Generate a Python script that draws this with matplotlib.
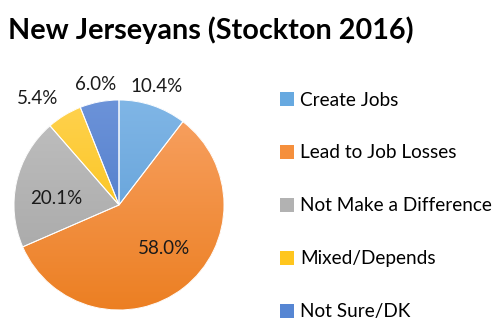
import matplotlib.pyplot as plt
import numpy as np
from matplotlib.colors import to_rgb
from matplotlib.patches import Patch

categories = ['Create Jobs', 'Lead to Job Losses', 'Not Make a Difference',
              'Mixed/Depends', 'Not Sure/DK']
shares = [10.4, 58.0, 20.1, 5.4, 6.0]
colors = ['#67A9E0', '#F58F3C', '#B2B2B2', '#FFC61E', '#5686D3']
top_colors = ['#80B6E6', '#F8A264', '#C0C0C0', '#FFD24F', '#6C93D9']
bottom_colors = ['#5597D2', '#EC7F22', '#A3A3A3', '#F8BC00', '#4170C2']

plt.rcParams['font.family'] = ['Lato', 'DejaVu Sans']

fig = plt.figure(figsize=(4.96, 3.2), dpi=100)
ax = fig.add_axes([14 / 496, 1 - 310 / 320, 210 / 496, 210 / 320])

wedges, _ = ax.pie(shares, colors=colors, startangle=90, counterclock=False,
                   wedgeprops=dict(edgecolor='none'))

# vertical shading inside each slice
t = np.linspace(0, 1, 256)[:, None]
for w, c0, c1 in zip(wedges, top_colors, bottom_colors):
    a, b = np.array(to_rgb(c0)), np.array(to_rgb(c1))
    grad = (a + (b - a) * t[:, :, None]) * np.ones((1, 2, 1))
    im = ax.imshow(grad, extent=(-1, 1, -1, 1), origin='upper',
                   aspect='auto', zorder=1.5)
    im.set_clip_path(w)

# thin white separators
ax.pie(shares, colors=['none'] * 5, startangle=90, counterclock=False,
       wedgeprops=dict(edgecolor='white', linewidth=0.7, zorder=2))

ax.set_xlim(-1, 1)
ax.set_ylim(-1, 1)
ax.set_aspect('equal')
ax.axis('off')

# radius and angle nudge (degrees) for each percentage label
label_r = [1.18, 0.6, 0.6, 1.28, 1.17]
label_turn = [1, 8, 7, 6, 0]
for w, v, r, d in zip(wedges, shares, label_r, label_turn):
    ang = np.deg2rad((w.theta1 + w.theta2) / 2 + d)
    ax.text(r * np.cos(ang), r * np.sin(ang), f'{v:.1f}%', ha='center',
            va='center', fontsize=13.5, color='#1a1a1a', zorder=3,
            clip_on=False)

fig.text(8 / 496, 1 - 30 / 320, 'New Jerseyans (Stockton 2016)', fontsize=20.7,
         fontweight='bold', va='center', ha='left')

handles = [Patch(facecolor=c, edgecolor='none') for c in colors]
fig.legend(handles, categories, loc='upper left',
           bbox_to_anchor=(280 / 496, 1 - 91.5 / 320), frameon=False,
           fontsize=13.7, handlelength=0.75, handleheight=0.75,
           handletextpad=0.3, labelspacing=1.89, borderpad=0,
           borderaxespad=0)

fig.savefig('out.png', dpi=100)
